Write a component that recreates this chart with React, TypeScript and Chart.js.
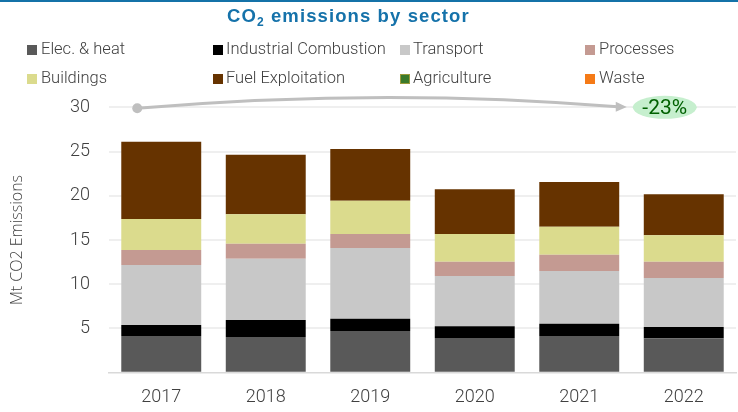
import React, { useEffect, useRef } from "react";
import { Chart, registerables } from "chart.js";

Chart.register(...registerables);

// ---------- data ----------
const years = ["2017", "2018", "2019", "2020", "2021", "2022"];
const elecHeat = [4.15, 4.03, 4.71, 3.92, 4.15, 3.88];
const industrialCombustion = [1.24, 1.93, 1.4, 1.32, 1.39, 1.28];
const transport = [6.78, 6.93, 7.99, 5.69, 5.96, 5.54];
const processes = [1.7, 1.7, 1.58, 1.62, 1.84, 1.85];
const buildings = [3.51, 3.31, 3.77, 3.13, 3.17, 2.98];
const fuelExploitation = [8.74, 6.75, 5.84, 5.05, 5.05, 4.64];
const agriculture = [0, 0, 0, 0, 0, 0];
const waste = [0, 0, 0, 0, 0, 0];

const seriesNames = [
  "Elec. & heat",
  "Industrial Combustion",
  "Transport",
  "Processes",
  "Buildings",
  "Fuel Exploitation",
  "Agriculture",
  "Waste",
];
const seriesValues = [
  elecHeat,
  industrialCombustion,
  transport,
  processes,
  buildings,
  fuelExploitation,
  agriculture,
  waste,
];
const seriesColors = [
  "#595959",
  "#000000",
  "#c8c8c8",
  "#c49a92",
  "#dbdb8d",
  "#663300",
  "#3a7a2a",
  "#f57a17",
];

const yMax = 30;
const yStep = 5;
const chartTitleMain = "CO";
const chartTitleSub = "2";
const chartTitleRest = " emissions by sector";
const yAxisTitle = "Mt CO2 Emissions";

// ---------- layout (styles, not data) ----------
const W = 738;
const H = 412;
const legendCols = [
  { box: 27, text: 41 },
  { box: 213, text: 226 },
  { box: 400, text: 413 },
  { box: 585, text: 599 },
];
const legendRows = [
  { box: 45, text: 41 },
  { box: 74, text: 69.5 },
];

const totals = years.map((_, i) =>
  seriesValues.reduce((s, arr) => s + arr[i], 0)
);

const changePlugin = {
  id: "changeAnnotation",
  afterDatasetsDraw(chart: any) {
    const { ctx } = chart;
    const x = chart.scales.x;
    const y = chart.scales.y;
    const pct = Math.round((totals[totals.length - 1] / totals[0] - 1) * 100);
    const yy = y.getPixelForValue(yMax);
    const x0 = x.getPixelForValue(0) - 24;
    const cx = x.getPixelForValue(years.length - 1) - 19;
    const rx = 32;
    const ry = 11.5;
    const tip = cx - rx - 6;
    ctx.save();
    ctx.strokeStyle = "#bfbfbf";
    ctx.fillStyle = "#bfbfbf";
    ctx.lineWidth = 3;
    ctx.beginPath();
    ctx.moveTo(x0, yy + 1);
    ctx.quadraticCurveTo((x0 + tip) / 2, yy - 20, tip - 9, yy - 0.5);
    ctx.stroke();
    ctx.beginPath();
    ctx.moveTo(tip, yy - 0.3);
    ctx.lineTo(tip - 11, yy - 5.5);
    ctx.lineTo(tip - 11, yy + 4.5);
    ctx.closePath();
    ctx.fill();
    ctx.beginPath();
    ctx.arc(x0, yy + 1, 5, 0, Math.PI * 2);
    ctx.fill();
    ctx.fillStyle = "#c6efce";
    ctx.beginPath();
    ctx.ellipse(cx, yy, rx, ry, 0, 0, Math.PI * 2);
    ctx.fill();
    ctx.fillStyle = "#006100";
    ctx.font = "400 21px Roboto";
    ctx.textAlign = "center";
    ctx.textBaseline = "middle";
    ctx.fillText(`${pct}%`, cx, yy + 1);
    ctx.restore();
  },
};

export default function App() {
  const canvasRef = useRef<HTMLCanvasElement>(null);

  useEffect(() => {
    document.body.style.margin = "0";
    const canvas = canvasRef.current;
    if (!canvas) return;
    const chart = new Chart(canvas, {
      type: "bar",
      data: {
        labels: years,
        datasets: seriesNames.map((name, i) => ({
          label: name,
          data: seriesValues[i],
          backgroundColor: seriesColors[i],
          borderWidth: 0,
          categoryPercentage: 0.765,
          barPercentage: 1,
        })),
      },
      options: {
        responsive: false,
        devicePixelRatio: 1,
        animation: false,
        layout: { padding: { top: 107.3, right: 2, left: 0, bottom: 0 } },
        plugins: {
          legend: { display: false },
          title: { display: false },
          tooltip: { enabled: false },
        },
        scales: {
          x: {
            stacked: true,
            grid: { display: false, drawTicks: false },
            border: { display: true, color: "#d9d9d9", width: 1.5 },
            ticks: {
              color: "#404040",
              font: { family: "Roboto", size: 18, weight: "300" as any },
              padding: 14,
            },
            afterFit: (s: any) => {
              s.height = H - 372.7;
            },
          },
          y: {
            stacked: true,
            min: 0,
            max: yMax,
            grid: {
              color: (c: any) => (c.tick && c.tick.value === 0 ? "rgba(0,0,0,0)" : "#efefef"),
              lineWidth: 2,
              drawTicks: false,
            },
            border: { display: false },
            ticks: {
              stepSize: yStep,
              color: "#404040",
              font: { family: "Roboto", size: 18, weight: "300" as any },
              padding: 19,
              callback: (v: any) => (v === 0 ? "" : String(v)),
            },
            title: {
              display: true,
              text: yAxisTitle,
              color: "#404040",
              font: { family: "Open Sans", size: 16, weight: "300" as any },
              padding: { top: 8, bottom: 0 },
            },
            afterFit: (s: any) => {
              s.width = 109;
            },
          },
        },
      },
      plugins: [changePlugin],
    });
    return () => chart.destroy();
  }, []);

  const textStyle: React.CSSProperties = {
    position: "absolute",
    fontFamily: "Roboto",
    fontWeight: 300,
    fontSize: "16.5px",
    lineHeight: 1,
    color: "#404040",
    whiteSpace: "nowrap",
  };

  return (
    <div style={{ position: "relative", width: W, height: H, background: "#fff", overflow: "hidden" }}>
      <canvas ref={canvasRef} width={W} height={H} style={{ position: "absolute", left: 0, top: 0, width: W, height: H }} />
      <div style={{ position: "absolute", left: 0, top: 0, width: W, height: 2, background: "#1472a8" }} />
      <div
        style={{
          position: "absolute",
          left: 227,
          top: 7,
          fontFamily: "Liberation Sans, Arial, sans-serif",
          fontWeight: 700,
          fontSize: "18.5px",
          letterSpacing: "1.1px",
          lineHeight: 1,
          color: "#1572aa",
          whiteSpace: "nowrap",
        }}
      >
        {chartTitleMain}
        <span style={{ fontSize: "12px", position: "relative", top: "4px" }}>{chartTitleSub}</span>
        {chartTitleRest}
      </div>
      {seriesNames.map((name, i) => {
        const col = legendCols[i % 4];
        const row = legendRows[Math.floor(i / 4)];
        const isAgri = name === "Agriculture";
        return (
          <React.Fragment key={name}>
            <div
              style={{
                position: "absolute",
                left: col.box,
                top: row.box,
                width: 10,
                height: 10,
                boxSizing: "border-box",
                background: seriesColors[i],
                border: isAgri ? "1px solid #9a9a3a" : "none",
              }}
            />
            <div style={{ ...textStyle, left: col.text, top: row.text }}>{name}</div>
          </React.Fragment>
        );
      })}
    </div>
  );
}
